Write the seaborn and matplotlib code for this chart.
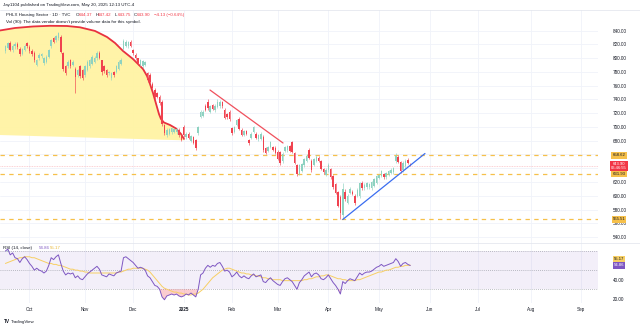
import numpy as np
import pandas as pd
import matplotlib
matplotlib.use("Agg")
import matplotlib.pyplot as plt
import matplotlib.transforms as mtransforms
import seaborn as sns

# ---------------- data ----------------
holidays = ["2024-11-28", "2024-12-25", "2025-01-01", "2025-01-09", "2025-01-20",
            "2025-02-17", "2025-04-18", "2025-05-26", "2025-06-19", "2025-07-04",
            "2025-09-01"]
sessions = pd.bdate_range("2024-09-17", "2025-09-30", freq="C", holidays=holidays)

open_ = [810, 815, 822, 812, 817, 821, 814, 806, 812, 822,
         816, 811, 808, 790, 800, 803, 793, 795, 802, 817,
         829, 826, 829, 831, 807, 788, 788, 797, 790, 785,
         775, 788, 783, 775, 783, 788, 792, 795, 800, 808,
         797, 788, 783, 778, 771, 780, 780, 785, 792, 814,
         818, 817, 824, 812, 805, 800, 790, 788, 790, 778,
         776, 763, 754, 749, 744, 737, 703, 688, 690, 692,
         693, 692, 696, 688, 700, 685, 690, 680, 685, 681,
         691, 715, 716, 730, 737, 722, 732, 724, 729, 730,
         736, 725, 719, 722, 698, 693, 703, 712, 696, 689,
         694, 681, 684, 693, 690, 682, 683, 686, 669, 665,
         671, 671, 670, 664, 663, 650, 665, 666, 672, 678,
         662, 644, 632, 636, 644, 651, 666, 651, 645, 651,
         655, 650, 639, 630, 637, 639, 628, 617, 605, 598,
         572, 606, 590, 604, 606, 600, 600, 599, 619, 611,
         612, 612, 611, 614, 619, 626, 629, 631, 627, 630,
         633, 634, 650, 657, 649, 637, 643, 652, 644.37]
high = [819, 824, 825, 820, 823, 823, 816, 815, 820, 824,
        819, 813, 810, 799, 807, 808, 802, 804, 814, 828,
        831, 834, 838, 833, 809, 790, 797, 799, 797, 787,
        785, 790, 785, 790, 797, 799, 804, 803, 810, 810,
        798, 790, 785, 782, 780, 782, 790, 797, 800, 828,
        826, 825, 826, 814, 807, 801, 799, 798, 796, 780,
        778, 765, 756, 751, 746, 739, 705, 698, 699, 700,
        699, 699, 698, 690, 703, 692, 692, 689, 687, 683,
        702, 724, 724, 733, 740, 732, 734, 733, 740, 739,
        738, 727, 721, 724, 700, 702, 712, 714, 698, 696,
        696, 683, 692, 702, 692, 690, 692, 688, 671, 673,
        680, 673, 672, 666, 665, 663, 673, 674, 674, 680,
        664, 646, 646, 648, 655, 660, 669, 653, 655, 659,
        658, 652, 641, 640, 647, 641, 630, 619, 607, 601,
        619, 610, 602, 612, 608, 602, 611, 620, 621, 618,
        620, 619, 622, 626, 630, 632, 638, 633, 635, 638,
        640, 642, 662, 659, 651, 650, 653, 655, 647.42]
low = [807, 813, 810, 809, 814, 814, 803, 804, 810, 815,
       808, 803, 795, 788, 798, 801, 790, 793, 800, 815,
       822, 824, 827, 807, 781, 775, 786, 786, 788, 749,
       772, 771, 768, 773, 781, 786, 790, 793, 798, 799,
       776, 779, 773, 775, 768, 773, 778, 783, 790, 812,
       816, 815, 816, 805, 798, 790, 788, 786, 788, 766,
       764, 754, 740, 742, 732, 702, 688, 686, 688, 690,
       691, 690, 686, 679, 686, 683, 682, 678, 675, 667,
       689, 713, 714, 723, 725, 720, 724, 722, 727, 728,
       728, 711, 712, 709, 689, 691, 701, 695, 687, 687,
       688, 674, 682, 691, 682, 680, 681, 664, 660, 663,
       669, 665, 660, 652, 645, 648, 663, 664, 663, 662,
       646, 629, 630, 634, 642, 649, 653, 635, 643, 649,
       649, 637, 632, 628, 635, 625, 610, 602, 583, 566,
       565.51, 593, 588, 602, 601, 587, 598, 597, 609, 609,
       610, 610, 609, 612, 617, 624, 627, 625, 625, 628,
       631, 632, 648, 647, 633, 635, 641, 646, 643.75]
close = [817, 822, 812, 818, 821, 816, 806, 813, 818, 817,
         811, 806, 797, 797, 805, 806, 800, 802, 812, 826,
         824, 832, 836, 809, 784, 778, 795, 789, 795, 772,
         783, 774, 771, 788, 795, 797, 802, 801, 807, 801,
         780, 781, 776, 780, 778, 776, 788, 795, 798, 825,
         824, 823, 818, 807, 800, 793, 797, 796, 794, 768,
         766, 756, 743, 744, 735, 705, 691, 696, 697, 698,
         697, 697, 688, 681, 688, 690, 684, 687, 677, 670,
         700, 722, 722, 725, 727, 730, 726, 731, 736, 737,
         730, 713, 714, 711, 691, 700, 710, 697, 689, 694,
         690, 676, 690, 700, 684, 688, 690, 666, 662, 671,
         678, 667, 662, 654, 647, 661, 671, 672, 665, 664,
         648, 631, 644, 646, 653, 658, 655, 637, 653, 657,
         651, 639, 634, 638, 645, 627, 612, 604, 585, 575,
         610, 595, 600, 610, 603, 589, 609, 618, 611, 616,
         618, 617, 620, 624, 628, 630, 636, 627, 633, 636,
         638, 640, 658, 649, 636, 648, 651, 648.03, 643.90]

rsi = [70, 72, 66, 68, 63, 62, 58, 62, 64, 61,
       57, 54, 50, 52, 50, 49, 47, 49, 55, 63,
       61, 64, 66, 57, 49, 45, 47, 46, 47, 42,
       44, 41, 40, 43, 46, 48, 50, 52, 54, 51,
       45, 44, 43, 46, 45, 44, 47, 48, 49, 63,
       64, 62, 60, 58, 55, 52, 53, 52, 50, 44,
       42, 38, 34, 33, 30, 22, 19, 23, 24, 25,
       24, 25, 23, 22, 23, 25, 24, 26, 24, 22,
       30, 45, 47, 52, 55, 53, 55, 54, 57, 58,
       54, 49, 50, 48, 43, 45, 48, 44, 42, 44,
       42, 41, 44, 46, 43, 44, 45, 38, 37, 40,
       42, 39, 37, 35, 34, 38, 41, 42, 40, 38,
       34, 30, 37, 40, 44, 46, 48, 43, 46, 47,
       45, 41, 40, 42, 45, 41, 37, 34, 30, 25,
       38, 36, 39, 41, 40, 39, 43, 47, 45, 47,
       48, 48, 49, 51, 53, 54, 56, 54, 55, 56,
       57, 58, 62, 59, 54, 57, 58, 56, 54.86]
rsi_ma = [57, 58, 59, 60, 61, 62, 63, 63, 64, 64,
          64, 63, 63, 62, 61, 60, 59, 58, 57, 57,
          56, 56, 55, 55, 54, 53, 52, 51, 51, 50,
          50, 49, 49, 48, 48, 47, 47, 47, 47, 47,
          47, 47, 47, 47, 47, 47, 47, 48, 48, 49,
          50, 51, 51, 52, 52, 52, 52, 52, 51, 50,
          48, 45, 42, 39, 36, 33, 31, 30, 29, 28,
          27, 27, 26, 26, 25, 25, 24, 24, 25, 25,
          26, 28, 30, 33, 36, 39, 42, 44, 46, 48,
          50, 51, 52, 52, 51, 50, 49, 48, 47, 47,
          46, 46, 45, 45, 44, 44, 43, 42, 42, 41,
          41, 40, 40, 40, 40, 39, 39, 39, 39, 39,
          39, 39, 39, 39, 40, 40, 41, 41, 42, 43,
          43, 44, 44, 45, 45, 44, 43, 42, 41, 41,
          40, 40, 39, 39, 39, 39, 40, 40, 41, 42,
          43, 44, 45, 46, 47, 48, 48, 49, 50, 50,
          51, 52, 53, 53, 54, 54, 55, 55, 55.17]

# drawn annotations (bar position, price)
arc_bar = [-2.24, 3.98, 11.45, 18.51, 25.56, 30.95, 37.18, 42.16, 45.48, 48.8,
           52.95, 55.85, 57.1, 58.76, 60.0, 61.24, 62.07, 62.9, 63.73, 64.56,
           65.8, 68.3, 70.79, 72.86, 74.1]
arc_price = [840.3, 843.9, 846.1, 847.1, 846.8, 844.9, 839.6, 830.8, 822.1, 810.5,
             798.8, 788.7, 784.3, 774.1, 762.5, 749.4, 739.2, 729.0, 718.8, 711.6,
             706.5, 702.9, 697.8, 689.8, 682.6]
base_bar = [74.1, -2.24]
base_price = [680.6, 688.3]
down_bar, down_price = [84.9, 115.2], [753.7, 676.7]
up_bar, up_price = [140.0, 174.1], [565.51, 661.4]

levels = [658.62, 631.93, 565.51]
last_price = 643.90
countdown = "06:46:55"
price_ticks = list(range(540, 841, 20))
hidden_ticks = [640, 660]          # covered by the price tags on the scale
rsi_ticks = [20, 40]

# ---------------- style ----------------
sns.set_theme(style="white")
plt.rcParams["font.family"] = ["Liberation Sans", "DejaVu Sans"]
TXT = "#131722"
UP, DOWN = "#8ed2c1", "#f0424f"
GOLD = "#f6c04a"
PURPLE = "#7e57c2"
GRID = "#f0f3fa"
RED = "#f23645"

n = len(close)
bars = np.arange(n)
df = pd.DataFrame({"bar": bars, "date": sessions[:n], "open": open_, "high": high,
                   "low": low, "close": close, "rsi": rsi, "rsi_ma": rsi_ma})

W, H = 640, 328
fig = plt.figure(figsize=(W / 100, H / 100), dpi=100)
fig.patch.set_facecolor("white")


def fx(px):
    return px / W


def fy(py):
    return 1 - py / H


ax = fig.add_axes([0, fy(243), fx(598), fy(9.7) - fy(243)])
axr = fig.add_axes([0, fy(303), fx(598), fy(243) - fy(303)], sharex=ax)

xmin, xmax = -2.24, 245.9
ax.set_xlim(xmin, xmax)
ax.set_ylim(531.3, 870.5)
axr.set_ylim(15.6, 78.4)

# month ticks on first session of each month
month_pos, month_lab = [], []
all_s = pd.Series(sessions)
for (yr, mo), grp in all_s.groupby([all_s.dt.year, all_s.dt.month]):
    if yr == 2024 and mo < 10:
        continue
    month_pos.append(grp.index[0])
    month_lab.append("2025" if (yr == 2025 and mo == 1) else grp.iloc[0].strftime("%b"))

for a in (ax, axr):
    for s in a.spines.values():
        s.set_visible(False)
    for p in month_pos:
        a.axvline(p, color=GRID, lw=0.6, zorder=0)

for t in price_ticks:
    ax.axhline(t, color=GRID, lw=0.6, zorder=0)

# price pane tick labels on the right
ax.yaxis.tick_right()
ax.set_yticks(price_ticks)
ax.set_yticklabels(["" if t in hidden_ticks else f"{t:.2f}" for t in price_ticks])
ax.tick_params(axis="y", length=0, pad=10.5, labelsize=3.3, colors=TXT)
ax.tick_params(axis="x", length=0, labelbottom=False)

axr.yaxis.tick_right()
axr.set_yticks(rsi_ticks)
axr.set_yticklabels([f"{t:.2f}" for t in rsi_ticks])
axr.tick_params(axis="y", length=0, pad=10.5, labelsize=3.3, colors=TXT)
axr.set_xticks(month_pos)
axr.set_xticklabels(month_lab)
axr.tick_params(axis="x", length=0, pad=3.0, labelsize=3.3, colors=TXT)
for lab in axr.get_xticklabels():
    if lab.get_text() == "2025":
        lab.set_fontweight("bold")
ax.set_xlabel("")
ax.set_ylabel("")

# yellow rounded-top zone with its red outline
poly_x = arc_bar + base_bar
poly_y = arc_price + base_price
ax.fill(poly_x, poly_y, color="#fff3a3", alpha=0.95, lw=0, zorder=1)
ax.plot(arc_bar, arc_price, color="#e8323f", lw=1.3, zorder=2, solid_capstyle="round")

# horizontal levels
for lv in levels:
    ax.axhline(lv, color=GOLD, lw=0.9, dashes=(3.5, 3.5), zorder=2)
ax.axhline(last_price, color=RED, alpha=0.3, lw=0.6, ls=(0, (1, 1)), zorder=2)

# candles
colors = np.where(df["close"] >= df["open"], UP, DOWN)
body_lo = np.minimum(df["open"], df["close"])
body_h = np.maximum(np.abs(df["close"] - df["open"]), 0.6)
ax.vlines(df["bar"], df["low"], df["high"], colors=colors, lw=0.45, zorder=3)
ax.bar(df["bar"], body_h, bottom=body_lo, width=0.62, color=colors, linewidth=0, zorder=4)

# trend lines
ax.plot(down_bar, down_price, color="#f0505c", lw=0.9, zorder=5)
ax.plot(up_bar, up_price, color="#3a6df0", lw=0.9, zorder=5)

# price scale labels
blend = mtransforms.blended_transform_factory(ax.transAxes, ax.transData)
lx = 619 / 598
# current price with its bar countdown, drawn first so the level tags sit on top
off = mtransforms.offset_copy(blend, fig=fig, y=2.4, units="points")
ax.text(lx, last_price, f"{last_price:.2f}\n{countdown}", transform=off, ha="center",
        va="top", fontsize=3.0, linespacing=1.0, color="white", clip_on=False, zorder=9,
        bbox=dict(boxstyle="square,pad=0.3", fc=RED, ec="none"))
for lv in levels:
    ax.text(lx, lv, f"{lv:.2f}", transform=blend, ha="center", va="center", fontsize=3.1,
            color=TXT, clip_on=False, zorder=10,
            bbox=dict(boxstyle="square,pad=0.25", fc=GOLD, ec="none"))

# RSI pane
axr.axhspan(30, 70, color=PURPLE, alpha=0.09, lw=0, zorder=0)
for lv in (70, 50, 30):
    axr.axhline(lv, color="#9598a1", lw=0.5, dashes=(1.2, 1.8), zorder=1)
r = df["rsi"].to_numpy()
axr.fill_between(df["bar"], r, 30, where=r < 30, interpolate=True, color=RED,
                 alpha=0.25, lw=0, zorder=1)
axr.fill_between(df["bar"], r, 70, where=r > 70, interpolate=True, color="#089981",
                 alpha=0.25, lw=0, zorder=1)
sns.lineplot(data=df, x="bar", y="rsi_ma", ax=axr, color="#f7cf63", lw=0.7, zorder=2)
sns.lineplot(data=df, x="bar", y="rsi", ax=axr, color=PURPLE, lw=0.7, zorder=3)
axr.set_xlabel("")
axr.set_ylabel("")

blend_r = mtransforms.blended_transform_factory(axr.transAxes, axr.transData)
axr.text(lx, rsi_ma[-1], f"{rsi_ma[-1]:.2f}",
         transform=mtransforms.offset_copy(blend_r, fig=fig, y=4.4, units="points"),
         ha="center", va="center", fontsize=3.1, color=TXT, clip_on=False, zorder=10,
         bbox=dict(boxstyle="square,pad=0.25", fc="#f7cf63", ec="none"))
axr.text(lx, rsi[-1], f"{rsi[-1]:.2f}", transform=blend_r, ha="center", va="center",
         fontsize=3.1, color="white", clip_on=False, zorder=10,
         bbox=dict(boxstyle="square,pad=0.25", fc=PURPLE, ec="none"))

# pane separators
for py in (9.7, 243):
    fig.add_artist(plt.Line2D([0, 1], [fy(py), fy(py)], color="#e0e3eb", lw=0.5))

# header texts
fs = 3.2
fig.text(fx(3), fy(5.2), "Jay1104 published on TradingView.com, May 20, 2025 12:13 UTC-4",
         fontsize=fs, color=TXT, va="center")
fig.text(fx(6.5), fy(14.8), "PHLX Housing Sector \u00b7 1D \u00b7 TVC", fontsize=fs,
         color=TXT, va="center")
x0 = 76
for key, val in (("O", f"{open_[-1]:.2f}"), ("H", f"{high[-1]:.2f}"),
                 ("L", f"{low[-1]:.2f}"), ("C", f"{close[-1]:.2f}")):
    fig.text(fx(x0), fy(14.8), key, fontsize=fs, color=TXT, va="center")
    fig.text(fx(x0 + 3.0), fy(14.8), val, fontsize=fs, color=RED, va="center")
    x0 += 19.2
fig.text(fx(x0 + 1), fy(14.8), "\u22124.13 (\u22120.64%)", fontsize=fs, color=RED, va="center")
fig.text(fx(6.5), fy(21.8), "Vol (90): The data vendor doesn't provide volume data for this symbol.",
         fontsize=fs, color=TXT, va="center")

fig.text(fx(3.3), fy(248.4), "RSI (14, close)", fontsize=fs, color=TXT, va="center")
fig.text(fx(39), fy(248.4), f"{rsi[-1]:.2f}", fontsize=fs, color=PURPLE, va="center")
fig.text(fx(49.5), fy(248.4), f"{rsi_ma[-1]:.2f}", fontsize=fs, color="#e9b93a", va="center")

fig.text(fx(3.5), fy(321.5), "TV", fontsize=3.4, color=TXT, va="center", fontweight="bold")
fig.text(fx(11), fy(321.5), "TradingView", fontsize=3.2, color=TXT, va="center")

fig.savefig("out.png", dpi=100, facecolor="white")
